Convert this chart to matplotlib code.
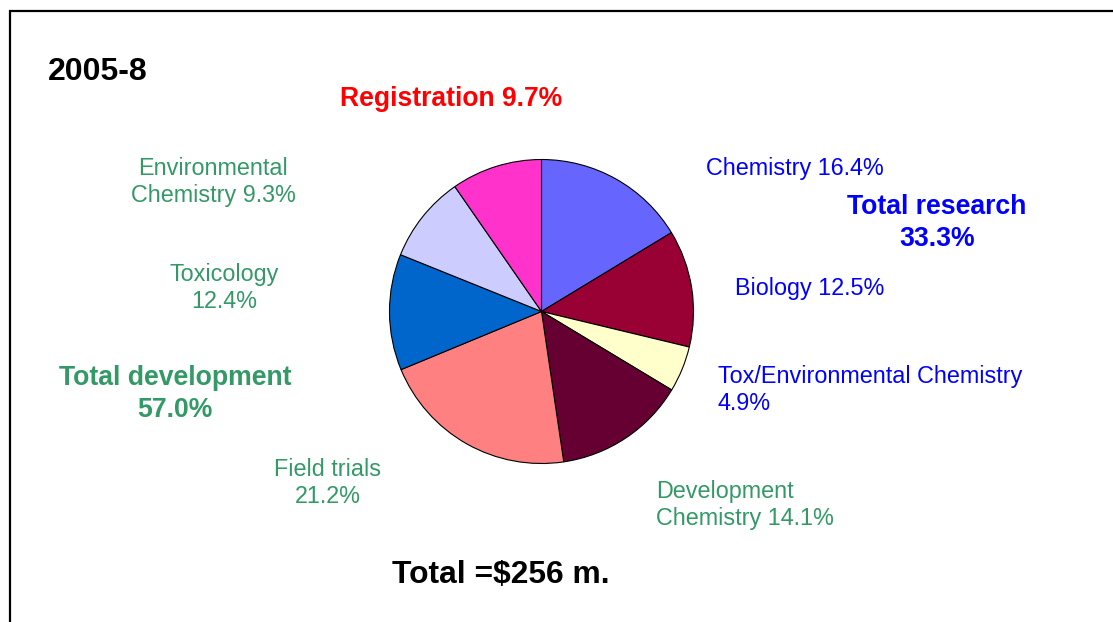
import matplotlib
matplotlib.use("Agg")
import matplotlib.pyplot as plt
from matplotlib.patches import Rectangle

plt.rcParams['font.family'] = ['Liberation Sans', 'DejaVu Sans']

# slices, clockwise from 12 o'clock
labels = ["Chemistry", "Biology", "Tox/Environmental Chemistry", "Development Chemistry",
          "Field trials", "Toxicology", "Environmental Chemistry", "Registration"]
shares = [16.4, 12.5, 4.9, 14.1, 21.2, 12.4, 9.3, 9.7]
colors = ["#6666FF", "#990033", "#FFFFCC", "#660033",
          "#FF8080", "#0066CC", "#CCCCFF", "#FF33CC"]

total_research = 33.3
total_development = 57.0
total_money = 256
period = "2005-8"

BLUE = "#0000FF"
GREEN = "#339966"
RED = "#FF0000"

W, H = 1113, 622
fig = plt.figure(figsize=(W / 100, H / 100), dpi=100)
ax = fig.add_axes([0, 0, 1, 1])


def py(y):
    # pixel row -> data y (va='center' sits a bit high, so nudge down)
    return H - y - 2


ax.pie(shares, colors=colors, startangle=90, counterclock=False,
       center=(541.5, H - 311.5), radius=152, frame=True,
       wedgeprops=dict(edgecolor='black', linewidth=0.8))
ax.set_xlim(0, W)
ax.set_ylim(0, H)
ax.set_aspect('equal')
ax.axis('off')

# frame round the slide (runs off right and bottom)
ax.add_patch(Rectangle((10, H - 640), W + 20, 629, fill=False,
                       edgecolor='black', linewidth=1.6, clip_on=False))

small = 16.8
big = 19.2

ax.text(48, py(70), period, fontsize=23, fontweight='bold', ha='left', va='center')
ax.text(451, py(97), "Registration %.1f%%" % shares[7], color=RED,
        fontsize=19.1, fontweight='bold', ha='center', va='center')

ax.text(706, py(166), "Chemistry %.1f%%" % shares[0], color=BLUE,
        fontsize=small, ha='left', va='center')
ax.text(937, py(221), "Total research\n%.1f%%" % total_research, color=BLUE,
        fontsize=big, fontweight='bold', ha='center', va='center', linespacing=1.3)
ax.text(735, py(286), "Biology %.1f%%" % shares[1], color=BLUE,
        fontsize=small, ha='left', va='center')
ax.text(718, py(388), "Tox/Environmental Chemistry\n%.1f%%" % shares[2], color=BLUE,
        fontsize=small, ha='left', va='center', linespacing=1.2, multialignment='left')

ax.text(656, py(503), "Development\nChemistry %.1f%%" % shares[3], color=GREEN,
        fontsize=small, ha='left', va='center', linespacing=1.2, multialignment='left')
ax.text(328, py(481), "Field trials\n%.1f%%" % shares[4], color=GREEN,
        fontsize=small, ha='center', va='center', linespacing=1.2)
ax.text(224, py(286), "Toxicology\n%.1f%%" % shares[5], color=GREEN,
        fontsize=small, ha='center', va='center', linespacing=1.2)
ax.text(213, py(180), "Environmental\nChemistry %.1f%%" % shares[6], color=GREEN,
        fontsize=small, ha='center', va='center', linespacing=1.2)
ax.text(175, py(392), "Total development\n%.1f%%" % total_development, color=GREEN,
        fontsize=big, fontweight='bold', ha='center', va='center', linespacing=1.3)

ax.text(501, py(573), "Total =$%d m." % total_money, fontsize=22.9,
        fontweight='bold', ha='center', va='center')

fig.savefig("out.png", dpi=100)
